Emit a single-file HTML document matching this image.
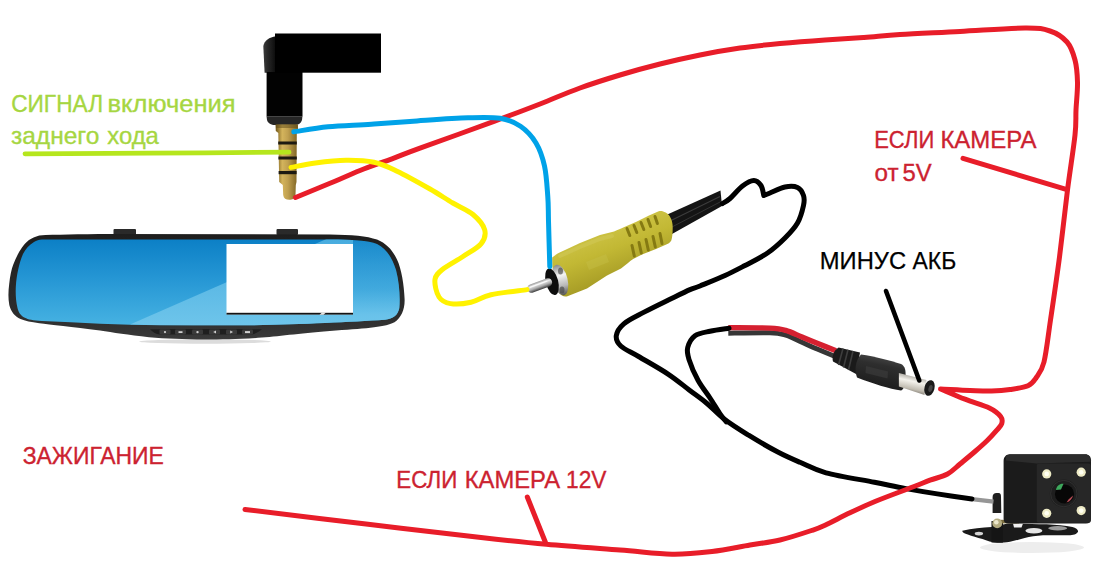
<!DOCTYPE html>
<html><head><meta charset="utf-8">
<style>
html,body{margin:0;padding:0;background:#fff;}
body{width:1100px;height:572px;overflow:hidden;position:relative;font-family:"Liberation Sans",sans-serif;}
svg{position:absolute;left:0;top:0;}
text{font-family:"Liberation Sans",sans-serif;font-size:24px;}
.g{fill:#a6d641;stroke:#a6d641;stroke-width:0.35px;}
.r{fill:#cc2230;stroke:#cc2230;stroke-width:0.35px;}
.k{fill:#000;stroke:#000;stroke-width:0.25px;}
</style></head><body>
<svg width="1100" height="572" viewBox="0 0 1100 572">
<defs>
<linearGradient id="glass" x1="0" y1="0" x2="0" y2="1">
<stop offset="0" stop-color="#0c80c6"/><stop offset="0.45" stop-color="#2596d4"/><stop offset="1" stop-color="#46b2e2"/>
</linearGradient>
<linearGradient id="glass3" x1="0" y1="0" x2="0" y2="1"><stop offset="0" stop-color="#4aaee0" stop-opacity="0.15"/><stop offset="0.6" stop-color="#60bce6" stop-opacity="0.4"/><stop offset="0.85" stop-color="#70c6ec" stop-opacity="0.85"/><stop offset="1" stop-color="#74c8ec" stop-opacity="0.9"/></linearGradient>
<linearGradient id="glass2" x1="0" y1="0" x2="0" y2="1">
<stop offset="0" stop-color="#4aaee0"/><stop offset="1" stop-color="#74c8ec"/>
</linearGradient>
<linearGradient id="frame" x1="0" y1="0" x2="0" y2="1">
<stop offset="0" stop-color="#1e1e1e"/><stop offset="0.8" stop-color="#2e2e2e"/><stop offset="1" stop-color="#3a3a3a"/>
</linearGradient>
<linearGradient id="gold" x1="0" y1="0" x2="1" y2="0">
<stop offset="0" stop-color="#6e5418"/><stop offset="0.3" stop-color="#d4b45c"/><stop offset="0.55" stop-color="#c0a050"/><stop offset="1" stop-color="#7a6020"/>
</linearGradient>
<linearGradient id="plugbody" x1="0" y1="0" x2="1" y2="0">
<stop offset="0" stop-color="#3c3c3c"/><stop offset="0.3" stop-color="#2a2a2a"/><stop offset="1" stop-color="#0a0a0a"/>
</linearGradient>
<linearGradient id="ylw" x1="0" y1="0" x2="0" y2="1" gradientTransform="rotate(-28 .5 .5)">
<stop offset="0" stop-color="#d6cc52"/><stop offset="0.45" stop-color="#c2b834"/><stop offset="1" stop-color="#94891c"/>
</linearGradient>
<linearGradient id="silver" x1="0" y1="0" x2="0" y2="1">
<stop offset="0" stop-color="#8a8a8a"/><stop offset="0.35" stop-color="#f4f4f4"/><stop offset="0.7" stop-color="#b8b8b8"/><stop offset="1" stop-color="#555"/>
</linearGradient>
<linearGradient id="pin" x1="0" y1="0" x2="0" y2="1"><stop offset="0" stop-color="#9a9a9a"/><stop offset="0.3" stop-color="#e8e8e8"/><stop offset="0.65" stop-color="#a8a8a8"/><stop offset="1" stop-color="#3a3a3a"/></linearGradient>
<linearGradient id="barrel" x1="0" y1="0" x2="0" y2="1" gradientTransform="rotate(15 .5 .5)">
<stop offset="0" stop-color="#8e8a82"/><stop offset="0.38" stop-color="#f4f2ec"/><stop offset="0.72" stop-color="#c2bdb2"/><stop offset="1" stop-color="#625e56"/>
</linearGradient>
<linearGradient id="dcbody" x1="0" y1="0" x2="0" y2="1" gradientTransform="rotate(15 .5 .5)">
<stop offset="0" stop-color="#4a4a4a"/><stop offset="0.3" stop-color="#2e2e2e"/><stop offset="1" stop-color="#1a1a1a"/>
</linearGradient>
<clipPath id="glassclip"><path id="glasspath" d="M42,239.6 L330,239.5 C352,239.7 368,240.5 377,244 C386,248.5 392,257 396,270 C399.5,283 400.2,298 399.3,308 C398,315.5 393,318.8 385,319.8 C350,322 300,324.5 250,325.3 L160,325.3 C120,324.8 80,322.8 42,321 C33,320.6 28,319.5 24.9,317.8 C20.5,315.5 18.5,312.5 17.5,308 C15.8,301 15.5,294 15.8,287 C16.2,280 17,275 18.2,269.5 C19.5,263.5 21,258.5 23,254 C25.5,249 29,245 34,242 C36.5,240.5 39,239.8 42,239.6 Z"/></clipPath>
</defs>

<!-- ===== MIRROR ===== -->
<g id="mirror">
<ellipse cx="205" cy="341.5" rx="66" ry="2.2" fill="#dcdcdc"/>
<rect x="113.5" y="229" width="22.5" height="6" rx="1" fill="#2a2a2a"/>
<rect x="276.5" y="229" width="21.5" height="6" rx="1" fill="#2a2a2a"/>
<path d="M39.3,235.4 C55,234.6 78,234.2 110,234 L330,234.4 C352,234.6 367,236 377,239.5 C387,243.5 393,251 397,259.5 C401.5,269 404,285 404.6,299 C405,309 401.5,317.5 394.5,322.3 C386,326.8 368,328.6 336,330.5 C302,333 282,336 262,337.6 C240,339.3 222,339.5 205,339.5 C183,339.5 166,338.6 149,337.3 C128,335 113,332.6 100,330.6 C72,326.8 50,324.8 39.3,323.3 C31,322 25,321 20.5,319 C15,316.5 11,312 9.3,305 C8,298 8.3,291 9.2,284 C10,276 11.5,269 13.3,264.5 C15.5,258.5 18.5,252.5 22,247.5 C26,241.5 31,237.5 39.3,235.4 Z" fill="url(#frame)"/>
<use href="#glasspath" fill="url(#glass)"/>
<g clip-path="url(#glassclip)">
<path d="M130,324.4 L226,282.4 L352,228 L353,228 L353,330 Z" fill="url(#glass2)" opacity="0.9"/>
<rect x="353" y="228" width="60" height="102" fill="url(#glass3)"/>
</g>
<rect x="226.5" y="244" width="126.5" height="70.5" fill="#fff"/>
<rect x="226.5" y="312.8" width="126.5" height="1.8" fill="#141414"/>
<path d="M322,312.6 L326,312.6 L323.5,314.8 L319.5,314.8 Z" fill="#e8e8e8"/>
<path d="M150,329.3 C175,329 235,329 262,329.3 C258,332 255,334.6 250,334.6 L160,334.6 C156,334.6 153,332 150,329.3 Z" fill="#1f1f1f"/>
<g fill="#3a3a3a">
<rect x="159.5" y="329.6" width="11" height="5" rx="1"/>
<rect x="175" y="329.6" width="11" height="5" rx="1"/>
<rect x="192" y="329.6" width="11" height="5" rx="1"/>
<rect x="209" y="329.6" width="11" height="5" rx="1"/>
<rect x="226" y="329.6" width="11" height="5" rx="1"/>
<rect x="242" y="329.6" width="11" height="5" rx="1"/>
</g>
<g fill="#d0d0d0">
<circle cx="165" cy="332.1" r="1.1"/><rect x="178.5" y="331.2" width="4" height="1.8"/><circle cx="197.5" cy="332.1" r="1.2"/>
<path d="M213.2,332.1 L216,330.6 L216,333.6 Z"/><path d="M233,332.1 L230.2,330.6 L230.2,333.6 Z"/><rect x="245" y="331.1" width="5" height="2"/>
</g>
</g>

<!-- ===== AUDIO JACK ===== -->
<g id="jack">
<path d="M276,36.2 C269,37.2 264.5,40.5 263.3,46 L264.6,72.8 L276,72.8 Z" fill="url(#plugbody)"/>
<rect x="266.6" y="72" width="35.9" height="44.6" fill="#020202"/>
<path d="M266.6,116.4 L302.4,116.4 L302,120 C301,123.5 298.5,125 295,125 L275,125 C271,125 268,123.5 267,120 Z" fill="#262626"/>
<rect x="275" y="33.5" width="106" height="39.2" fill="#000"/>
<path d="M275.5,124.5 L298,124.5 L298,131 L296.8,133 L296.5,182 L295.8,185 L295.5,195 C295,198.8 292.5,199.8 289.3,199.8 C285.8,199.8 283.6,198.3 283.2,195 L282.8,185 L279.2,182 L278.3,133 L275.8,131 Z" fill="url(#gold)"/>
<path d="M276,124.5 L297.5,124.5 L297.5,128 L276,128 Z" fill="#5e4a18" opacity="0.5"/>
<g fill="#1d1a12">
<rect x="278.2" y="141.5" width="18.6" height="3"/>
<rect x="278.4" y="156.5" width="18.4" height="3"/>
<rect x="278.6" y="171" width="18" height="3.2"/>
</g>
</g>

<!-- ===== RCA PLUG ===== -->
<g id="rca">
<path d="M664,216 L720.5,190.5 L722,206 L672,234 Z" fill="#141414"/>
<path d="M668,222 L720,196.5" stroke="#3c3c3c" stroke-width="1.2"/>
<path d="M670,228 L721,201.5" stroke="#333" stroke-width="1"/>
<path d="M552.2,257.5 C555,255 558,253.2 561.8,251.5 L580,243 L600,235 L614,231.5 C618,230 621,228.8 623.8,227.3 L636.4,221.7 L649,215.4 L658.7,211.2 C661,210.6 663.5,211.2 665.7,212.6 C668,214 669.5,215.5 670,216.8 C672,220 672.8,224 672.7,228 C672.7,233 672.3,237.5 671.3,240.6 C670,242.8 668,244 665.7,244.8 L656,249 L642,254.5 L633.6,258.7 C631.5,260 629.5,261.5 628,263 L621,268.5 L607,275.5 L587,288.5 L567.4,296.2 C561,297.5 557,292 555,283 C553,274 552,265 552.2,257.5 Z" fill="url(#ylw)"/>
<path d="M560,256 L580,247 L600,239 L612,236" stroke="#d2ca5a" stroke-width="4" fill="none" opacity="0.5" stroke-linecap="round"/>
<path d="M586,262 L606,254 L609,262 L589,270 Z" fill="#c6be48" opacity="0.45"/>
<g stroke="#857a12" stroke-width="3" stroke-linecap="round">
<path d="M627,228.5 L629.8,235.5"/><path d="M634,225.5 L636.8,232.5"/><path d="M641,222.5 L643.8,229.5"/><path d="M648,219.5 L650.6,226.5"/><path d="M655,216.5 L657.4,223.5"/>
<path d="M632,245.5 L634.3,256"/><path d="M639,242.5 L641.3,253"/><path d="M646,239.5 L648.3,250"/><path d="M653,236.5 L655.3,247"/><path d="M660,233.5 L662,243.5"/>
</g>
<ellipse cx="560.2" cy="280" rx="7.4" ry="15.6" transform="rotate(-14 560.2 280)" fill="url(#silver)"/>
<ellipse cx="562" cy="290" rx="2.5" ry="3.5" fill="#4a4a4a" opacity="0.7"/>
<ellipse cx="560.5" cy="271" rx="2.5" ry="3.5" fill="#3a3a3a" opacity="0.6"/>
<ellipse cx="552" cy="281.8" rx="6.2" ry="13.6" transform="rotate(-14 552 281.8)" fill="#0d0d0d"/>
<g transform="translate(527.5,290) rotate(-20.3)"><rect x="0" y="-4.3" width="26" height="8.6" rx="4.3" fill="url(#pin)"/><rect x="3" y="-2.3" width="19" height="1.4" rx="0.7" fill="#fafafa" opacity="0.85"/></g>
</g>
</g>

<!-- ===== DC PLUG ===== -->
<g id="dc">

<path d="M728.3,333.2 C735.2,333.1 760.4,332.5 770.0,332.8 C779.6,333.1 780.5,333.7 785.7,335.2 C790.9,336.7 796.1,339.7 801.4,342.0 C806.6,344.3 811.8,346.7 817.2,349.0 C822.6,351.3 831.2,354.8 834.0,356.0" fill="none" stroke="#363636" stroke-width="5"/>
<path d="M728.3,327.6 C735.2,327.7 760.4,327.6 770.0,328.1 C779.6,328.6 780.5,328.9 785.7,330.4 C790.9,331.8 796.1,334.6 801.4,336.8 C806.6,339.0 811.4,341.0 817.2,343.3 C823.0,345.6 832.9,349.6 836.0,350.8" fill="none" stroke="#d52030" stroke-width="5.4"/>
<path d="M838.6,347.4 L860,352.5 L856,374 L833,361.6 C831.5,356 834,350 838.6,347.4 Z" fill="#1a1a1a"/>
<g stroke="#3e3e3e" stroke-width="1.6"><path d="M843,348.5 L838.5,365"/><path d="M848,349.7 L843.5,367.5"/><path d="M853,351 L848.5,370"/></g>
<path d="M861,354.5 C875,356.5 890,360.5 901,364 C905,366 906,370 905.5,378 C905,385 904,389.5 901,390.5 C890,389 872,383.5 857,377.5 C854.5,370 855,361 861,354.5 Z" fill="url(#dcbody)"/>
<path d="M866,366 L888,371.5 L887.5,378.5 L865.5,373 Z" fill="#3a3a3a" opacity="0.7"/>
<path d="M898.9,373 L926.5,380 L924.5,395 L898.9,386.6 Z" fill="url(#barrel)"/>
<ellipse cx="929.5" cy="388" rx="5" ry="8" transform="rotate(15 929.5 388)" fill="#1a1a1a"/>
<ellipse cx="930.5" cy="388.5" rx="2" ry="3.5" transform="rotate(15 930.5 388.5)" fill="#444"/>
</g>

<!-- ===== CAMERA ===== -->
<g id="camera">
<ellipse cx="1032" cy="547.5" rx="52" ry="5.5" fill="#ededed"/>
<path d="M962.3,530.7 C972,528.5 982,527.5 991.7,527 C998,525.5 1004,524 1010,523.4 C1022,523.2 1035,524 1046.7,524.3 C1056,524.8 1065,525.6 1072.4,527 C1076,528 1078.5,530 1078,531.7 C1077,534 1073,535.3 1068.8,535.3 L1043,535.3 C1036,535.8 1030,536.6 1024.7,538 C1019,539.5 1014.5,541 1010,541.7 C1005,542.5 1001,542.8 997.2,542.7 C992,542.3 987,541 982.5,539 C977,537.3 972,536 967.8,534.4 C964.5,533.3 962,532.3 962.3,530.7 Z" fill="#1a1a1a"/>
<ellipse cx="978.9" cy="533.6" rx="4.2" ry="1.9" fill="#d4d4d4"/>
<ellipse cx="1033.9" cy="530.8" rx="8.5" ry="2.8" fill="#e6e6e6"/>
<ellipse cx="1057.7" cy="528.3" rx="9.5" ry="2.2" fill="#9a9a9a"/>
<path d="M1013,523.6 L1023,523.6 L1021.5,527.5 L1014,527.5 Z" fill="#f0f0f0"/>
<rect x="991.5" y="521" width="11.5" height="21.5" fill="#151515"/>
<path d="M992.6,497 C992.6,494.3 994.2,493.1 996.5,493.1 L998.5,493.1 C1000.5,493.1 1001,494.5 1001,497 L1001.3,513 L992.6,513 Z" fill="#1f1f1f"/>
<rect x="999" y="519.8" width="20" height="3.6" fill="#7c6e40"/>
<path d="M1003.6,461 C1003.6,457 1006,454.2 1010,454.2 L1085,454.2 C1089,454.2 1091,456.5 1091,460.5 L1091,519 C1091,522 1089,523.6 1086,523.6 L1008,523.6 C1005.5,523.6 1003.6,522 1003.6,519 Z" fill="#1b1b1b"/>
<path d="M1006,456.5 C1007,455 1008.5,454.5 1010.5,454.5 L1085,454.5 C1088.5,454.5 1090.3,456.5 1090.6,461.8 L1036.7,463.6 L1006,460.5 Z" fill="#2c2c2c"/>
<rect x="1036.7" y="463.6" width="54.1" height="59.2" rx="2.5" fill="#272727"/>
<circle cx="1063.8" cy="493.6" r="14" fill="#1e1e1e"/>
<circle cx="1063.8" cy="493.6" r="13.2" fill="none" stroke="#333" stroke-width="0.8"/>
<circle cx="1064.5" cy="494" r="9.6" fill="#070707"/>
<path d="M1056,490 C1056.5,486 1059.5,483.5 1063.5,483.8 L1061,489.5 Z" fill="#3da85c"/>
<path d="M1066.5,502.5 C1070,501.5 1072.5,498.5 1073,495.5 L1068.5,499.5 Z" fill="#b84c56"/>
<g fill="#eeebc6"><circle cx="1046.7" cy="473.9" r="4.6"/><circle cx="1081.2" cy="472.2" r="4.6"/><circle cx="1046.7" cy="513.3" r="4.6"/><circle cx="1081.2" cy="510.6" r="4.6"/></g>
<g fill="#fffff2"><circle cx="1046.7" cy="473.9" r="2.3"/><circle cx="1081.2" cy="472.2" r="2.3"/><circle cx="1046.7" cy="513.3" r="2.3"/><circle cx="1081.2" cy="510.6" r="2.3"/></g>
<circle cx="997.2" cy="523.4" r="4.9" fill="#b4ac80"/>
<circle cx="996.3" cy="522.3" r="2.3" fill="#ece8cc"/>
<path d="M972,499.2 C980,500 987,500.8 993.5,501.6" stroke="#969696" stroke-width="4.2" fill="none"/>
</g>

<!-- ===== DRAWN WIRES ===== -->
<g fill="none" stroke-linecap="round" stroke-linejoin="round">
<!-- black drawn wire 1 (RCA cable continuation) -->
<path d="M722.5,203.5 C723.8,202.7 726.7,201.4 730.0,198.5 C733.3,195.6 738.5,189.0 742.5,186.0 C746.5,183.0 750.7,180.6 753.8,180.5 C756.8,180.4 759.3,183.0 761.0,185.5 C762.7,188.0 763.3,193.8 763.8,195.5  C764.8,195.1 766.5,194.4 770.0,193.0 C773.5,191.6 780.4,187.9 785.0,187.0 C789.6,186.1 794.4,186.1 797.5,187.5 C800.6,188.9 802.5,192.5 803.5,195.5 C804.5,198.5 804.5,200.9 803.5,205.5 C802.5,210.1 800.6,217.6 797.5,223.0 C794.4,228.4 790.0,233.0 785.0,238.0 C780.0,243.0 774.2,248.4 767.5,253.0 C760.8,257.6 752.1,261.8 745.0,265.5 C737.9,269.2 732.5,272.1 725.0,275.5 C717.5,278.9 705.8,283.6 700.0,286.0 C694.2,288.4 695.3,287.3 690.0,289.6 C684.7,291.9 676.0,296.3 668.4,300.0 C660.8,303.7 652.0,307.9 644.6,311.9 C637.2,315.9 628.5,319.8 623.8,323.8 C619.1,327.8 616.8,332.0 616.3,335.7 C615.8,339.4 617.1,342.5 620.8,346.0 C624.5,349.5 630.7,351.8 638.6,356.5 C646.5,361.2 660.0,368.7 668.4,374.3 C676.8,379.9 682.8,385.1 689.2,390.0 C695.6,394.9 701.1,398.6 707.0,403.5 C712.9,408.4 717.9,414.2 724.8,419.5 C731.7,424.8 739.7,429.7 748.6,435.2 C757.5,440.7 769.7,447.8 778.3,452.3 C786.9,456.8 792.0,458.9 800.0,462.3 C808.0,465.7 813.6,469.5 826.0,472.8 C838.4,476.1 861.1,479.7 874.4,482.3 C887.7,484.9 895.4,486.7 905.9,488.6 C916.4,490.5 926.3,492.2 937.3,493.9 C948.3,495.6 966.2,498.1 972.0,499.0" stroke="#000" stroke-width="5"/>
<!-- black drawn wire 2 (from DC cable) -->
<path d="M729.0,328.2 C725.8,328.7 715.7,329.9 710.0,331.2 C704.3,332.4 698.7,333.0 695.0,335.7 C691.3,338.4 688.7,343.6 687.7,347.5 C686.7,351.4 687.3,353.9 689.0,359.4 C690.7,364.8 694.5,373.8 698.0,380.2 C701.5,386.6 706.3,392.3 710.0,398.0 C713.7,403.7 717.7,410.4 720.4,414.4 C723.1,418.4 725.3,420.6 726.3,421.8" stroke="#000" stroke-width="5"/>
<!-- black pointer -->
<path d="M886,291 L919.3,380.5" stroke="#000" stroke-width="4.6"/>
<!-- red main -->
<path d="M295.5,197.5 C301.2,195.1 319.2,187.8 330.0,183.3 C340.8,178.8 349.7,174.6 360.0,170.5 C370.3,166.4 382.0,162.5 392.0,158.8 C402.0,155.1 403.0,154.4 420.0,148.2 C437.0,142.0 474.0,128.8 494.0,121.4 C514.0,114.0 525.7,109.6 540.0,104.0 C554.3,98.4 566.7,92.8 580.0,88.0 C593.3,83.2 606.7,79.0 620.0,75.0 C633.3,71.0 646.7,67.3 660.0,64.0 C673.3,60.7 686.7,57.7 700.0,55.0 C713.3,52.3 726.7,49.9 740.0,48.0 C753.3,46.1 765.8,44.9 780.0,43.6 C794.2,42.3 811.0,41.0 825.0,40.0 C839.0,39.0 851.5,38.4 864.0,37.5 C876.5,36.6 884.0,35.5 900.0,34.5 C916.0,33.5 939.2,32.6 960.0,31.5 C980.8,30.4 1010.0,28.1 1025.0,28.0 C1040.0,27.9 1043.0,28.7 1050.0,31.0 C1057.0,33.3 1062.8,37.2 1067.0,42.0 C1071.2,46.8 1073.2,53.2 1075.0,60.0 C1076.8,66.8 1077.3,74.2 1077.5,82.5 C1077.7,90.8 1076.4,101.2 1076.0,110.0 C1075.6,118.8 1076.4,121.7 1075.0,135.0 C1073.6,148.3 1070.1,169.7 1067.5,190.0 C1064.9,210.3 1062.3,235.3 1059.5,257.0 C1056.7,278.7 1053.1,302.5 1050.5,320.0 C1047.9,337.5 1046.4,352.3 1044.0,362.0 C1041.6,371.7 1038.7,374.0 1036.0,378.0 C1033.3,382.0 1032.3,383.9 1028.0,385.8 C1023.7,387.7 1016.1,388.6 1010.0,389.5 C1003.9,390.4 998.2,390.8 991.5,391.0 C984.8,391.2 978.5,390.8 970.0,390.5 C961.5,390.2 945.4,389.2 940.5,389.0  C944.6,390.7 956.9,396.0 965.0,399.2 C973.1,402.4 983.4,405.1 989.4,408.0 C995.4,410.9 998.8,414.1 1000.8,416.7 C1002.8,419.3 1002.4,421.4 1001.7,423.7 C1001.0,426.0 998.8,427.9 996.4,430.7 C994.0,433.5 991.1,436.8 987.5,440.2 C983.9,443.7 979.6,447.5 975.0,451.5 C970.4,455.5 964.6,460.2 960.0,464.0 C955.4,467.8 952.5,471.3 947.5,474.0 C942.5,476.7 936.7,477.8 930.0,480.2 C923.3,482.8 916.7,485.5 907.5,489.0 C898.3,492.5 884.6,497.5 875.0,501.5 C865.4,505.5 858.3,508.8 850.0,512.8 C841.7,516.7 831.4,522.3 825.0,525.2 C818.6,528.2 819.0,528.0 811.5,530.5 C804.0,533.0 790.2,537.6 780.0,540.0 C769.8,542.4 761.3,543.1 750.0,545.0 C738.7,546.9 725.0,550.0 712.0,551.5 C699.0,553.0 687.3,554.5 672.0,554.2 C656.7,554.0 640.9,551.6 620.0,550.0 C599.1,548.4 569.6,546.4 546.4,544.3 C523.2,542.2 511.1,540.9 481.0,537.5 C450.9,534.1 405.3,528.7 366.0,524.0 C326.7,519.3 265.2,511.9 245.0,509.5" stroke="#e81d29" stroke-width="5"/>
<!-- red pointers -->
<path d="M963,158.4 L1067,189.6" stroke="#e81d29" stroke-width="5"/>
<path d="M527.3,497 L545.3,542" stroke="#e81d29" stroke-width="5"/>
<!-- green -->
<path d="M25.0,153.8 C45.8,153.7 106.0,153.5 150.0,153.2 C194.0,152.9 265.8,152.4 289.0,152.2" stroke="#b5e61d" stroke-width="4.8"/>
<!-- blue -->
<path d="M293.8,131.8 C299.5,131.0 315.1,128.0 328.0,126.7 C340.9,125.4 356.6,125.2 371.4,124.2 C386.2,123.2 400.9,122.0 417.0,120.9 C433.1,119.8 454.2,118.2 468.0,117.8 C481.8,117.4 491.2,116.9 500.0,118.3 C508.8,119.7 514.5,122.2 520.5,126.3 C526.5,130.4 532.0,136.4 536.0,143.0 C540.0,149.6 542.5,157.1 544.5,166.0 C546.5,174.9 547.1,187.5 547.8,196.7 C548.5,205.9 548.2,209.3 548.5,221.0 C548.8,232.7 549.6,259.1 549.8,266.7" stroke="#00a2e8" stroke-width="5"/>
<!-- yellow -->
<path d="M291.0,167.4 C295.1,166.7 306.2,164.2 315.4,163.0 C324.6,161.8 336.2,160.4 346.0,160.3 C355.8,160.2 365.5,160.5 374.0,162.3 C382.5,164.1 387.7,166.8 397.0,171.2 C406.3,175.6 420.7,183.7 430.0,189.0 C439.3,194.3 445.6,198.8 452.8,203.0 C460.0,207.2 467.7,210.0 473.0,214.5 C478.3,219.0 483.4,224.9 484.7,229.8 C486.0,234.7 484.6,239.4 481.0,243.8 C477.4,248.2 469.3,252.3 463.0,256.5 C456.7,260.7 447.7,265.2 443.0,269.0 C438.3,272.8 435.7,274.7 435.0,279.4 C434.3,284.1 436.4,293.0 439.0,297.0 C441.6,301.0 445.2,302.7 450.5,303.6 C455.8,304.5 464.2,303.8 471.0,302.3 C477.8,300.8 481.7,296.8 491.0,294.7 C500.3,292.6 521.0,290.5 527.0,289.6" stroke="#fff200" stroke-width="5"/>
</g>

<!-- ===== TEXT ===== -->
<text class="g" x="11.15" y="111.6" textLength="91.93" lengthAdjust="spacingAndGlyphs">СИГНАЛ</text>
<text class="g" x="107.58" y="111.6" textLength="128.03" lengthAdjust="spacingAndGlyphs">включения</text>
<text class="g" x="10.98" y="144.0" textLength="88.36" lengthAdjust="spacingAndGlyphs">заднего</text>
<text class="g" x="107.31" y="144.0" textLength="51.6" lengthAdjust="spacingAndGlyphs">хода</text>
<text class="r" x="874.17" y="148.1" textLength="60.05" lengthAdjust="spacingAndGlyphs">ЕСЛИ</text>
<text class="r" x="940.4" y="148.1" textLength="96.2" lengthAdjust="spacingAndGlyphs">КАМЕРА</text>
<text class="r" x="874.59" y="180.7" textLength="24.03" lengthAdjust="spacingAndGlyphs">от</text>
<text class="r" x="902.41" y="180.7" textLength="29.15" lengthAdjust="spacingAndGlyphs">5V</text>
<text class="k" x="819.82" y="268.9" textLength="86.33" lengthAdjust="spacingAndGlyphs">МИНУС</text>
<text class="k" x="912.5" y="268.9" textLength="43.72" lengthAdjust="spacingAndGlyphs">АКБ</text>
<text class="r" x="22.65" y="463.6" textLength="141.22" lengthAdjust="spacingAndGlyphs">ЗАЖИГАНИЕ</text>
<text class="r" x="396.34" y="488.2" textLength="61.0" lengthAdjust="spacingAndGlyphs">ЕСЛИ</text>
<text class="r" x="464.72" y="488.2" textLength="95.48" lengthAdjust="spacingAndGlyphs">КАМЕРА</text>
<text class="r" x="566.11" y="488.2" textLength="40.41" lengthAdjust="spacingAndGlyphs">12V</text>
</svg>
</body></html>
